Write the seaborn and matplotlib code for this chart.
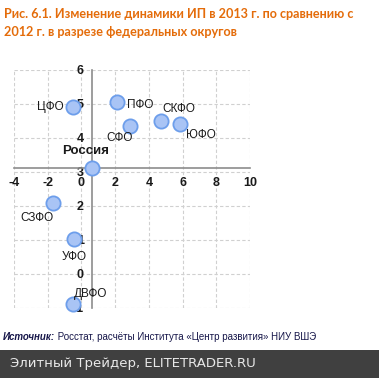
import numpy as np
import pandas as pd
import seaborn as sns
from matplotlib import pyplot as plt
from matplotlib.patches import Rectangle
from matplotlib.ticker import MultipleLocator

# data
districts = ['ЦФО', 'ПФО', 'СФО', 'СКФО', 'ЮФО', 'Россия', 'СЗФО', 'УФО', 'ДВФО']
x_vals = [-0.48, 2.11, 2.87, 4.73, 5.87, 0.64, -1.66, -0.42, -0.48]
y_vals = [4.91, 5.06, 4.36, 4.49, 4.41, 3.12, 2.09, 1.04, -0.87]
x_ticks = [-4, -2, 0, 2, 4, 6, 8, 10]
y_ticks = [-1, 0, 1, 2, 3, 4, 5, 6]

title = 'Рис. 6.1. Изменение динамики ИП в 2013 г. по сравнению с\n2012 г. в разрезе федеральных округов'
source_head = 'Источник:'
source_body = ' Росстат, расчёты Института «Центр развития» НИУ ВШЭ'
banner = 'Элитный Трейдер, ELITETRADER.RU'

# label offsets in pixels (dx, dy)
offsets = {'ЦФО': (-23, 0), 'ПФО': (23, -3), 'СФО': (-10, -12),
           'СКФО': (18, 12), 'ЮФО': (20, -11), 'Россия': (-7, 17),
           'СЗФО': (-17, -15), 'УФО': (0, -18), 'ДВФО': (17, 10)}

df = pd.DataFrame({'district': districts, 'x': x_vals, 'y': y_vals})

sns.set_style('white')
plt.rcParams['font.family'] = ['Liberation Sans', 'DejaVu Sans']
plt.rcParams['axes.unicode_minus'] = False

fig = plt.figure(figsize=(3.79, 3.78), dpi=100)
ax = fig.add_axes([14/379, 1-308/378, 236/379, 238/378])

ax.set_xlim(-4, 10)
ax.set_ylim(-1, 6)
ax.set_xticks(x_ticks)
ax.set_yticks(y_ticks)
ax.xaxis.set_minor_locator(MultipleLocator(0.4))
ax.grid(True, which='major', linestyle=(0, (3, 2)), color='#d0d0d0', linewidth=0.8)

sns.scatterplot(data=df, x='x', y='y', ax=ax, s=105, color='#a9c4f5',
                edgecolor='#6d9eeb', linewidth=1.3, zorder=5, clip_on=False)

cross_x = df.loc[df.district == 'Россия', 'x'].iloc[0]
cross_y = df.loc[df.district == 'Россия', 'y'].iloc[0]
for s in ['top', 'right']:
    ax.spines[s].set_visible(False)
ax.spines['left'].set_position(('data', cross_x))
ax.spines['bottom'].set_position(('data', cross_y))
for s in ['left', 'bottom']:
    ax.spines[s].set_color('#8c8c8c')
    ax.spines[s].set_linewidth(1.2)
    ax.spines[s].set_zorder(3)

ax.tick_params(axis='x', which='major', direction='inout', length=7, color='#8c8c8c', width=1, pad=3)
ax.tick_params(axis='x', which='minor', direction='inout', length=4, color='#8c8c8c', width=0.8)
ax.tick_params(axis='y', which='major', direction='out', length=4, color='#8c8c8c', width=1, pad=2)
for lab in ax.get_xticklabels() + ax.get_yticklabels():
    lab.set_fontweight('bold')
    lab.set_fontsize(9)
    lab.set_color('#1a1a1a')
ax.set_xlabel('')
ax.set_ylabel('')

for name, xv, yv in zip(districts, x_vals, y_vals):
    dx, dy = offsets[name]
    bold = name == 'Россия'
    ax.annotate(name, (xv, yv), xytext=(dx, dy), textcoords='offset pixels',
                ha='center', va='center', fontsize=9.5 if bold else 8.5,
                fontweight='bold' if bold else 'normal', color='#1a1a1a', zorder=6)

fig.text(4/379, 1-8/378, title, ha='left', va='top', fontsize=9.1,
         fontweight='bold', color='#e46c0a', family=['Lato', 'DejaVu Sans'],
         linespacing=1.65)

t1 = fig.text(3/379, 1-337/378, source_head, ha='left', va='center', fontsize=7,
              fontweight='bold', style='italic', color='#17174a')
fig.canvas.draw()
bb = t1.get_window_extent()
fig.text(bb.x1/379, 1-337/378, source_body, ha='left', va='center', fontsize=7,
         color='#17174a')

fig.patches.append(Rectangle((0, 0), 1, 28/378, transform=fig.transFigure,
                             facecolor='#404040', edgecolor='none', zorder=0))
fig.text(10/379, 14/378, banner, ha='left', va='center', fontsize=9.5,
         color='#e8e8e8', family='DejaVu Sans')

fig.savefig('out.png', dpi=100)
